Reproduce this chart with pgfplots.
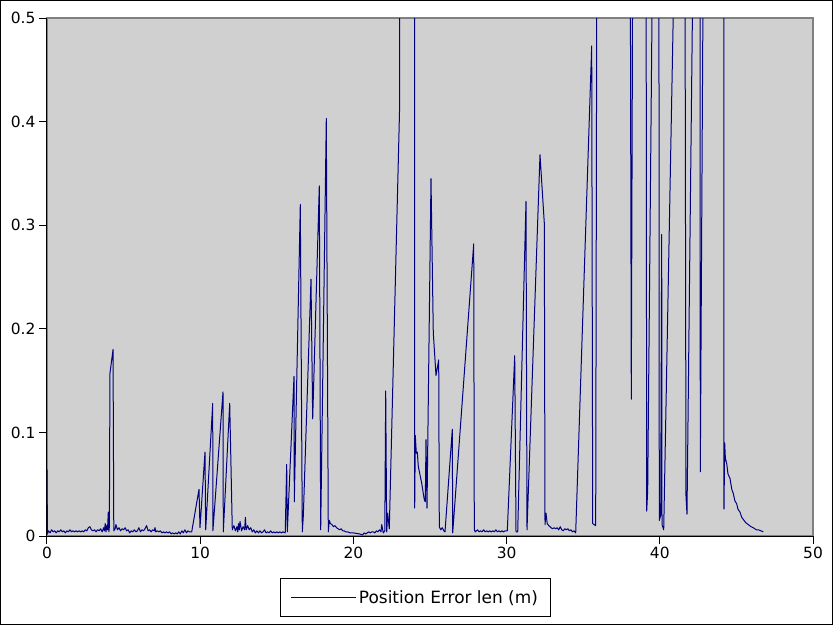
\documentclass[border=0pt]{standalone}
\usepackage{fontspec}
\setmainfont{DejaVu Sans}
\usepackage{pgfplots}
\pgfplotsset{compat=1.18}
\definecolor{plotbg}{RGB}{208,208,208}
\definecolor{navyline}{RGB}{0,0,128}
\definecolor{framegray}{RGB}{128,128,128}
\begin{document}
\begin{tikzpicture}
\draw[line width=1bp, black, fill=white] (0.5bp,0.5bp) rectangle (832.5bp,624.5bp);
\begin{axis}[
  at={(47bp,89bp)}, anchor=south west,
  width=766bp, height=518bp, scale only axis,
  xmin=0, xmax=50, ymin=0, ymax=0.5,
  xtick={0,10,20,30,40,50},
  ytick={0,0.1,0.2,0.3,0.4,0.5},
  yticklabel style={/pgf/number format/.cd, fixed, precision=1},
  /pgf/number format/assume math mode=true,
  axis lines*=left,
  axis line style={black, line width=1bp},
  axis background/.style={fill=plotbg, draw=framegray, line width=1.5bp},
  tick align=outside,
  major tick length=8bp,
  tick style={black, line width=1bp},
  ticklabel style={font=\fontsize{15.5}{18}\selectfont},
  legend style={at={(0.481,-0.0811)}, anchor=north, draw=black, line width=0.8bp,
    fill=white, inner xsep=10.5bp, inner ysep=10bp,
    font=\fontsize{17}{20}\selectfont,
    /tikz/every even column/.append style={column sep=0bp}},
  legend cell align=left,
  legend image code/.code={\draw[#1, line width=1bp] (0bp,0bp) -- (65bp,0bp);},
]
\addplot[navyline, line width=1bp, line join=round] coordinates {
(0,0.064) (0.03,0.002) (0.1,0.005) (0.2,0.003) (0.3,0.006) (0.4,0.004) (0.5,0.005)
(0.6,0.003) (0.7,0.005) (0.8,0.004) (0.9,0.006) (1.0,0.004) (1.1,0.005) (1.2,0.003)
(1.3,0.005) (1.4,0.004) (1.5,0.006) (1.6,0.004) (1.7,0.005) (1.8,0.004) (1.9,0.005)
(2.0,0.004) (2.1,0.005) (2.2,0.004) (2.3,0.005) (2.4,0.004) (2.5,0.006) (2.6,0.005)
(2.7,0.008) (2.8,0.009) (2.9,0.006) (3.0,0.005) (3.1,0.006) (3.2,0.004) (3.3,0.006)
(3.4,0.005) (3.5,0.007) (3.6,0.004) (3.7,0.008) (3.75,0.005) (3.8,0.012) (3.85,0.004)
(3.9,0.010) (3.95,0.006) (4.0,0.023) (4.04,0.004) (4.07,0.009) (4.11,0.157) (4.31,0.180)
(4.36,0.005) (4.45,0.007) (4.5,0.011) (4.6,0.006) (4.7,0.008) (4.8,0.005) (4.9,0.007)
(5.0,0.006) (5.1,0.008) (5.2,0.005) (5.3,0.006) (5.4,0.003) (5.5,0.005) (5.6,0.004)
(5.7,0.006) (5.8,0.004) (5.9,0.005) (6.0,0.008) (6.1,0.004) (6.2,0.006) (6.3,0.005)
(6.4,0.007) (6.5,0.010) (6.6,0.005) (6.7,0.006) (6.8,0.004) (6.9,0.006) (7.0,0.005)
(7.05,0.008) (7.1,0.004) (7.2,0.005) (7.3,0.004) (7.4,0.005) (7.5,0.003) (7.6,0.004)
(7.7,0.003) (7.8,0.004) (7.9,0.003) (8.0,0.004) (8.1,0.002) (8.2,0.003) (8.3,0.002)
(8.4,0.003) (8.5,0.002) (8.6,0.004) (8.7,0.002) (8.8,0.005) (8.9,0.003) (9.0,0.006)
(9.1,0.003) (9.2,0.005) (9.3,0.004) (9.445,0.004)
(9.922,0.045) (9.987,0.008) (10.313,0.081) (10.359,0.006) (10.816,0.128) (10.83,0.005)
(11.488,0.139) (11.508,0.004) (11.926,0.128) (12.095,0.006)
(12.2,0.010) (12.3,0.005) (12.4,0.009) (12.45,0.004) (12.5,0.012) (12.55,0.006)
(12.6,0.014) (12.7,0.005) (12.8,0.009) (12.9,0.006) (12.95,0.018) (13.0,0.006)
(13.1,0.010) (13.2,0.006) (13.3,0.008) (13.4,0.004) (13.5,0.006) (13.6,0.003)
(13.7,0.005) (13.8,0.003) (13.9,0.005) (14.0,0.003) (14.1,0.004) (14.2,0.006)
(14.3,0.003) (14.4,0.004) (14.5,0.003) (14.6,0.005) (14.7,0.003) (14.8,0.004)
(14.9,0.003) (15.0,0.004) (15.1,0.003) (15.2,0.004) (15.3,0.003) (15.4,0.004)
(15.55,0.003) (15.646,0.069) (15.685,0.004) (16.123,0.154) (16.142,0.033)
(16.534,0.320) (16.665,0.004) (16.730,0.019) (17.232,0.248) (17.343,0.113)
(17.774,0.338) (17.865,0.006) (18.231,0.403) (18.362,0.004) (18.427,0.015)
(18.5,0.012) (18.6,0.011) (18.7,0.009) (18.8,0.010) (18.9,0.008) (19.0,0.007)
(19.1,0.006) (19.2,0.007) (19.3,0.005) (19.4,0.005) (19.5,0.004) (19.6,0.004)
(19.8,0.003) (20.0,0.003) (20.2,0.0025) (20.4,0.002) (20.6,0.001) (20.7,0.003)
(20.8,0.002) (20.9,0.003) (21.0,0.004) (21.1,0.003) (21.2,0.004) (21.3,0.004)
(21.4,0.003) (21.5,0.005) (21.6,0.004) (21.7,0.006) (21.8,0.004) (21.85,0.011)
(21.95,0.003) (22.05,0.005) (22.108,0.140) (22.174,0.004) (22.239,0.022)
(22.343,0.007) (23.009,0.409) (23.061,0.9) (23.99,0.9) (24.001,0.027)
(24.041,0.097) (24.106,0.080) (24.171,0.081) (24.237,0.067) (24.347,0.059)
(24.458,0.051) (24.563,0.041) (24.628,0.035) (24.693,0.033) (24.739,0.093)
(24.804,0.027) (25.065,0.345) (25.215,0.196) (25.392,0.155) (25.568,0.170)
(25.607,0.009) (25.7,0.006) (25.8,0.008) (25.9,0.005) (25.979,0.004)
(26.456,0.103) (26.482,0.003) (27.853,0.282) (27.892,0.006)
(27.95,0.004) (28.1,0.006) (28.2,0.004) (28.3,0.005) (28.4,0.004) (28.5,0.006)
(28.6,0.004) (28.7,0.005) (28.8,0.004) (28.9,0.005) (29.0,0.004) (29.1,0.005)
(29.2,0.004) (29.3,0.006) (29.4,0.004) (29.5,0.005) (29.6,0.004) (29.7,0.005)
(29.8,0.004) (29.9,0.005) (30.046,0.005) (30.529,0.174) (30.614,0.004)
(30.725,0.004) (31.266,0.323) (31.332,0.006) (32.180,0.368) (32.461,0.302)
(32.507,0.011) (32.572,0.022) (32.65,0.012) (32.75,0.010) (32.833,0.009)
(32.9,0.008) (33.0,0.007) (33.1,0.008) (33.2,0.007) (33.3,0.008) (33.4,0.006)
(33.5,0.009) (33.6,0.006) (33.7,0.005) (33.8,0.007) (33.9,0.006) (34.0,0.007)
(34.1,0.005) (34.2,0.006) (34.3,0.004) (34.4,0.005) (34.51,0.003)
(35.555,0.473) (35.620,0.012) (35.815,0.010) (35.90,0.65) (38.06,0.65)
(38.14,0.132) (38.25,0.65) (39.10,0.65) (39.145,0.024) (39.21,0.044)
(39.55,0.6) (39.94,0.6) (39.967,0.015) (40.059,0.020) (40.124,0.291)
(40.144,0.011) (40.255,0.006) (41.0,0.6) (41.64,0.6) (41.71,0.038)
(41.775,0.021) (42.2,0.6) (42.62,0.6) (42.644,0.062) (42.85,0.6)
(44.18,0.6) (44.19,0.026) (44.236,0.090) (44.28,0.075) (44.367,0.070)
(44.45,0.060) (44.582,0.0555) (44.7,0.045) (44.798,0.041) (44.9,0.034)
(45.020,0.031) (45.1,0.026) (45.235,0.023) (45.35,0.018) (45.450,0.016)
(45.6,0.013) (45.777,0.011) (45.95,0.009) (46.103,0.008) (46.3,0.006)
(46.430,0.006) (46.6,0.005) (46.756,0.004)
};
\addlegendentry{Position Error len (m)}
\end{axis}
\end{tikzpicture}
\end{document}
